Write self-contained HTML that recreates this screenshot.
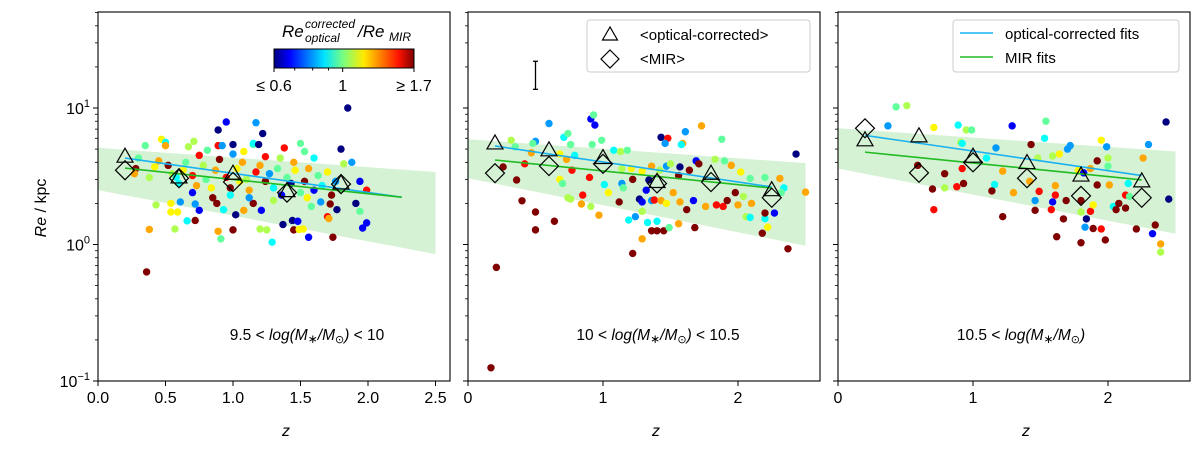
<!DOCTYPE html>
<html><head><meta charset="utf-8">
<style>
body{margin:0;background:#fff;}
svg{display:block;font-family:"Liberation Sans","DejaVu Sans",sans-serif;}
</style></head>
<body>
<svg id="chart" width="1200" height="449" viewBox="0 0 1200 449" xmlns="http://www.w3.org/2000/svg">
<defs>
<linearGradient id="jet" x1="0" x2="1" y1="0" y2="0">
<stop offset="0" stop-color="#00007f"/><stop offset="0.11" stop-color="#0000ff"/><stop offset="0.36" stop-color="#00e5ff"/><stop offset="0.5" stop-color="#7dff7a"/><stop offset="0.64" stop-color="#ffea00"/><stop offset="0.89" stop-color="#ff1200"/><stop offset="1" stop-color="#7f0000"/>
</linearGradient>
</defs>
</svg>
<script>
// ---- data ----
const N=0.6,B=0.68,Z=0.8,C=0.89,M=0.98,G=1.06,Y=1.16,O=1.26,R=1.48,D=1.7;
const panelLabelPre=["9.5 < ","10 < ","10.5 < "];
const panelLabelPost=[" < 10"," < 10.5",""];
const xTicks1=[0,0.5,1.0,1.5,2.0,2.5];
const xTickLabels1=["0.0","0.5","1.0","1.5","2.0","2.5"];
const xTicks23=[0,1,2];
const xTickLabels23=["0","1","2"];
const yTicks=[0.1,1,10];
const cbTicks=[0.6,1,1.7];
const cbTickLabels=["\u2264 0.6","1","\u2265 1.7"];
const binZ1=[0.2,0.6,1.0,1.4,1.8];
const binZ23=[0.2,0.6,1.0,1.4,1.8,2.25];
const triRe1=[4.4,3.1,3.3,2.46,2.8];
const diaRe1=[3.5,3.06,2.87,2.4,2.77];
const triRe2=[5.5,4.9,4.3,2.87,3.3,2.5];
const diaRe2=[3.33,3.76,3.9,2.8,2.87,2.2];
const triRe3=[5.8,6.2,4.4,3.95,3.2,2.9];
const diaRe3=[7.1,3.35,4.0,3.06,2.27,2.2];
const fitZ=[0.2,2.25];
const fitOpt1=[4.3,2.22], fitMir1=[3.63,2.22];
const fitOpt2=[5.27,2.64], fitMir2=[4.16,2.59];
const fitOpt3=[6.3,3.2], fitMir3=[4.75,2.97];
const bandZ=[0,2.5];
const bandUp1=[5.1,3.4], bandLo1=[2.5,0.85];
const bandUp2=[5.9,3.95], bandLo2=[3.06,0.98];
const bandUp3=[7.1,4.8], bandLo3=[3.6,1.2];
const errBar=[0.5,13.7,22];
const pts1=[[0.47,5.9,Y],[0.50,5.6,C],[0.35,5.3,M],[0.50,5.3,O],[0.71,5.7,G],[0.67,5.2,G],[0.81,4.9,M],[0.89,5.3,R],[0.92,5.3,Z],[1.0,5.4,N],[1.08,4.8,Y],[1.15,5.4,M],[1.17,7.8,Z],[0.95,7.9,B],[0.89,6.9,N],[1.22,6.5,N],[1.15,5.5,C],[1.19,5.4,N],[1.24,4.4,R],[1.38,5.1,R],[1.5,5.5,M],[1.53,4.8,M],[1.8,5.0,N],[1.88,4.0,Z],[1.82,3.9,G],[1.85,10,N],[1.94,2.9,B],[1.99,2.5,R],[1.91,2.0,N],[1.94,1.75,M],[1.99,1.44,B],[1.96,1.32,B],[1.77,1.8,N],[1.74,1.13,D],[1.56,1.13,B],[1.29,1.04,C],[0.91,1.1,M],[1.0,1.28,D],[1.25,1.28,G],[1.2,1.3,G],[0.89,1.25,O],[0.38,1.29,O],[0.57,1.3,G],[0.66,1.49,C],[0.72,1.5,D],[0.43,1.95,G],[0.54,2.0,Y],[0.54,1.73,Y],[0.59,1.73,Y],[0.75,1.78,B],[0.72,1.98,Z],[0.61,2.05,Z],[0.88,2.0,D],[0.93,1.8,C],[1.02,1.65,N],[1.08,1.78,O],[1.15,2.0,D],[1.21,1.78,B],[1.37,1.4,N],[1.44,1.5,N],[1.48,1.48,B],[1.58,1.9,M],[1.65,2.05,Z],[1.72,1.98,D],[1.7,1.6,R],[1.71,1.55,O],[1.52,1.3,Y],[1.45,1.28,D],[1.49,1.29,Y],[0.36,0.63,D],[0.3,4.3,M],[0.28,3.6,D],[0.27,3.3,O],[0.38,3.1,G],[0.42,3.7,Y],[0.45,4.1,O],[0.52,3.8,D],[0.55,3.3,G],[0.6,2.8,C],[0.63,3.5,Y],[0.65,4.0,M],[0.7,3.2,R],[0.73,2.7,O],[0.78,3.8,G],[0.8,3.0,M],[0.84,2.6,Y],[0.87,3.5,O],[0.9,4.2,D],[0.95,3.1,R],[0.98,2.6,D],[1.03,3.6,Y],[1.07,4.0,O],[1.1,3.0,G],[1.12,2.5,O],[1.17,3.4,R],[1.2,3.8,O],[1.24,2.9,D],[1.27,3.3,Z],[1.3,2.6,C],[1.33,3.6,M],[1.36,2.3,B],[1.4,3.1,M],[1.43,2.8,N],[1.46,3.5,Y],[1.5,2.4,M],[1.53,2.9,D],[1.56,3.6,O],[1.6,2.5,B],[1.63,3.2,M],[1.66,2.7,C],[1.7,3.4,Y],[1.73,2.3,D],[1.76,2.9,Z],[1.12,2.2,Z],[0.85,2.2,D],[0.7,2.4,B],[0.98,2.3,C],[1.3,2.1,G],[1.55,2.2,Y],[0.58,3.1,C],[1.05,2.9,Y],[1.35,4.3,G],[1.6,4.3,C],[0.75,4.5,R],[1.0,4.6,Z],[1.45,4.0,O]];
const pts2=[[0.6,7.7,Z],[0.91,8.3,B],[0.93,8.9,M],[0.94,7.5,B],[1.73,7.4,O],[1.61,6.7,Z],[1.43,6.1,N],[1.48,6.0,R],[1.46,5.5,Z],[1.59,5.5,O],[1.58,5.4,C],[1.88,5.9,M],[2.43,4.6,N],[0.32,5.8,G],[0.5,5.7,Z],[0.48,5.5,M],[0.71,6.1,C],[0.74,6.5,M],[0.76,5.4,M],[0.99,5.8,M],[0.92,5.4,M],[1.08,4.9,C],[1.13,4.8,G],[1.18,4.9,M],[0.35,5.2,M],[0.47,4.7,O],[0.68,4.6,Y],[0.73,4.2,O],[0.79,4.5,C],[0.77,3.5,R],[0.42,3.9,R],[0.26,3.7,D],[0.36,2.97,D],[0.68,3.0,Y],[0.7,2.8,M],[0.9,3.1,R],[1.01,2.75,C],[1.04,2.4,Y],[1.12,2.05,D],[1.14,2.8,Z],[1.15,2.6,M],[1.22,3.0,D],[1.27,2.15,N],[1.29,2.05,B],[1.32,2.5,B],[1.34,2.97,N],[1.36,2.1,Z],[1.38,2.12,R],[1.43,2.1,O],[1.47,2.0,Y],[1.52,2.4,O],[1.57,2.05,O],[1.62,1.8,D],[1.67,2.1,B],[1.76,1.9,O],[1.84,1.95,R],[1.89,1.9,R],[1.92,2.1,D],[1.98,2.4,D],[2.0,1.95,O],[2.04,2.25,G],[2.1,2.0,O],[2.06,1.6,G],[2.09,1.58,C],[2.2,1.55,C],[2.22,1.34,Y],[2.18,1.21,D],[2.2,1.7,D],[2.27,1.7,B],[2.31,3.05,O],[2.34,2.6,C],[2.32,2.4,M],[2.5,2.42,O],[2.2,3.1,M],[2.09,3.05,M],[2.02,3.4,Y],[1.95,3.8,O],[1.9,4.1,M],[1.83,4.2,G],[1.69,4.1,B],[1.71,3.9,D],[1.64,3.5,D],[1.57,3.7,N],[1.56,3.2,D],[1.47,3.75,Z],[1.42,3.5,G],[1.5,3.9,G],[1.36,3.75,O],[1.29,3.45,Y],[1.21,3.6,Y],[1.14,3.6,G],[0.85,2.3,R],[0.84,1.98,O],[0.74,2.2,G],[0.76,2.15,G],[0.91,1.9,G],[0.97,1.64,O],[1.29,1.75,G],[1.19,1.51,C],[1.24,1.6,Z],[1.33,1.45,C],[1.4,1.48,C],[1.36,1.26,D],[1.4,1.26,D],[1.45,1.26,D],[1.49,1.33,M],[1.56,1.42,O],[1.68,1.33,D],[1.29,1.1,O],[1.22,0.86,D],[0.5,1.73,D],[0.5,1.28,D],[0.64,1.48,D],[0.4,2.09,D],[2.37,0.93,D],[0.21,0.68,D],[0.17,0.125,D]];
const pts3=[[0.43,10.2,M],[0.51,10.4,G],[0.37,7.4,Z],[0.71,7.2,Y],[0.89,7.5,C],[0.95,6.9,G],[0.99,6.9,M],[0.91,5.6,G],[0.92,5.5,C],[1.29,7.4,B],[1.54,8.0,M],[1.53,6.0,C],[1.43,5.4,D],[1.17,5.1,Z],[1.1,4.3,C],[1.22,3.45,O],[1.48,4.3,G],[1.59,4.45,G],[1.64,4.6,Y],[1.7,5.0,Z],[1.72,5.3,Z],[1.99,5.2,Z],[1.95,5.8,Y],[2.0,4.3,G],[2.0,3.75,M],[1.92,4.1,D],[1.87,3.6,O],[2.43,7.9,N],[2.3,5.4,Z],[2.26,4.3,O],[0.59,3.8,D],[0.79,3.3,D],[0.92,3.6,R],[0.93,2.8,D],[0.88,2.65,R],[0.79,2.6,G],[0.7,2.55,D],[0.71,1.8,R],[1.16,2.75,C],[1.14,2.47,D],[1.3,2.4,O],[1.22,1.6,D],[1.42,2.9,O],[1.49,2.45,R],[1.46,2.1,Z],[1.46,1.78,D],[1.59,2.05,B],[1.61,2.3,R],[1.61,2.7,O],[1.69,2.1,D],[1.58,1.8,R],[1.67,1.54,D],[1.62,1.14,D],[1.8,1.03,D],[1.8,1.73,G],[1.87,1.75,R],[1.89,1.95,Y],[1.84,1.54,N],[1.83,1.34,Z],[1.89,1.31,D],[1.95,1.3,R],[1.98,1.08,D],[1.8,2.1,D],[1.92,2.73,D],[2.01,2.73,O],[2.04,1.9,C],[2.06,1.8,D],[2.08,2.0,D],[2.13,1.85,D],[2.13,2.3,R],[2.15,2.8,C],[2.16,2.25,M],[2.21,1.3,D],[2.33,1.2,B],[2.35,1.39,D],[2.39,1.01,O],[2.39,0.88,G],[2.45,2.15,N],[1.78,3.5,Y],[1.82,3.35,B]];

// ---- layout ----
const svg=document.getElementById('chart');
const NS='http://www.w3.org/2000/svg';
const panelLefts=[98,468,838], PW=352, TOP=12, BOT=381;
const XMAX=PW/135, YMIN=-1, YMAX=-1+(BOT-TOP)/136.5;
function el(tag,attrs,parent,text){const e=document.createElementNS(NS,tag);for(const k in attrs)e.setAttribute(k,attrs[k]);if(text!==undefined)e.textContent=text;(parent||svg).appendChild(e);return e;}
function jet(r){let t=Math.log(r/0.6)/Math.log(1.7/0.6);t=Math.max(0,Math.min(1,t));
 const f=(x)=>Math.max(0,Math.min(1,x));
 const rr=f(Math.min(4*t-1.5,-4*t+4.5)),gg=f(Math.min(4*t-0.5,-4*t+3.5)),bb=f(Math.min(4*t+0.5,-4*t+2.5));
 return `rgb(${Math.round(rr*255)},${Math.round(gg*255)},${Math.round(bb*255)})`;}

const panels=[
 {pts:pts1,bz:binZ1,tri:triRe1,dia:diaRe1,fo:fitOpt1,fm:fitMir1,bu:bandUp1,bl:bandLo1,xt:xTicks1,xl:xTickLabels1},
 {pts:pts2,bz:binZ23,tri:triRe2,dia:diaRe2,fo:fitOpt2,fm:fitMir2,bu:bandUp2,bl:bandLo2,xt:xTicks23,xl:xTickLabels23},
 {pts:pts3,bz:binZ23,tri:triRe3,dia:diaRe3,fo:fitOpt3,fm:fitMir3,bu:bandUp3,bl:bandLo3,xt:xTicks23,xl:xTickLabels23}];

panels.forEach((p,i)=>{
 const L=panelLefts[i];
 const X=z=>L+z/XMAX*PW;
 const Yv=v=>BOT-(Math.log10(v)-YMIN)/(YMAX-YMIN)*(BOT-TOP);
 const g=el('g',{});
 
 
 const clipId='clip'+i;
 const cp=el('clipPath',{id:clipId},g);el('rect',{x:L,y:TOP,width:PW,height:BOT-TOP},cp);
 const inner=el('g',{'clip-path':`url(#${clipId})`},g);
 const band=el('polygon',{points:`${X(bandZ[0])},${Yv(p.bu[0])} ${X(bandZ[1])},${Yv(p.bu[1])} ${X(bandZ[1])},${Yv(p.bl[1])} ${X(bandZ[0])},${Yv(p.bl[0])}`,fill:'#d5f2d5'},inner);
 
 
 p.pts.forEach(d=>{const c=el('circle',{cx:X(d[0]),cy:Yv(d[1]),r:3.7,fill:jet(d[2])},inner);
  
  });
 const lo=el('line',{x1:X(fitZ[0]),y1:Yv(p.fo[0]),x2:X(fitZ[1]),y2:Yv(p.fo[1]),stroke:'#1ab2f0','stroke-width':1.6},inner);
 
 
 const lm=el('line',{x1:X(fitZ[0]),y1:Yv(p.fm[0]),x2:X(fitZ[1]),y2:Yv(p.fm[1]),stroke:'#22bb22','stroke-width':1.6},inner);
 
 
 p.bz.forEach((z,k)=>{
  const x=X(z),yt=Yv(p.tri[k]),yd=Yv(p.dia[k]);
  const t=el('polygon',{points:`${x},${yt-8.5} ${x-8},${yt+5.5} ${x+8},${yt+5.5}`,fill:'none',stroke:'#000','stroke-width':1.2},inner);
  
  
  const dm=el('polygon',{points:`${x},${yd-9.5} ${x+9.5},${yd} ${x},${yd+9.5} ${x-9.5},${yd}`,fill:'none',stroke:'#000','stroke-width':1.2},inner);
  
  
 });
 el('rect',{x:L,y:TOP,width:PW,height:BOT-TOP,fill:'none',stroke:'#000','stroke-width':1.1},g);
 p.xt.forEach((v,k)=>{el('line',{x1:X(v),x2:X(v),y1:BOT,y2:BOT+5,stroke:'#000'},g);
  const tl=el('text',{x:X(v),y:BOT+22,'font-size':16,'text-anchor':'middle'},g,p.xl[k]);
  
  });
 for(let e=-1;e<=1;e++){for(let m=1;m<=9;m++){const v=m*Math.pow(10,e);const y=Yv(v);if(y<TOP)continue;
  el('line',{x1:L,x2:L-(m===1?5:3),y1:y,y2:y,stroke:'#000','stroke-width':m===1?1:0.8},g);}}
 if(i===0){yTicks.forEach(v=>{const t=el('text',{x:L-8,y:Yv(v)+6,'font-size':16,'text-anchor':'end'},g);
  
  
  el('tspan',{},t,'10');el('tspan',{dy:-7,'font-size':11},t,String(Math.round(Math.log10(v))).replace('-','\u2212'));});}
 const xl=el('text',{x:L+PW/2+12,y:436,'font-size':16,'font-style':'italic','text-anchor':'middle'},g,'z');
 
 
 const pl=el('text',{x:[307,658,1021][i],y:340,'font-size':15.5,'text-anchor':'middle'},g);
 
 
 el('tspan',{},pl,panelLabelPre[i]);
 el('tspan',{'font-style':'italic'},pl,'log(M');
 el('tspan',{'font-size':12,dy:3},pl,'\u2217');
 el('tspan',{'font-style':'italic',dy:-3},pl,'/M');
 el('tspan',{'font-size':11,dy:3},pl,'\u2299');
 el('tspan',{'font-style':'italic',dy:-3},pl,')');
 el('tspan',{},pl,panelLabelPost[i]);
 if(i===1){const x=X(errBar[0]);const eb=el('g',{},g);
  
  
  el('line',{x1:x,x2:x,y1:Yv(errBar[1]),y2:Yv(errBar[2]),stroke:'#000','stroke-width':1.3},eb);
  el('line',{x1:x-2.5,x2:x+2.5,y1:Yv(errBar[1]),y2:Yv(errBar[1]),stroke:'#000','stroke-width':1.3},eb);
  el('line',{x1:x-2.5,x2:x+2.5,y1:Yv(errBar[2]),y2:Yv(errBar[2]),stroke:'#000','stroke-width':1.3},eb);}
});
const yt=el('text',{x:0,y:0,'font-size':16,'text-anchor':'middle',transform:'translate(46,208) rotate(-90)'});


el('tspan',{'font-style':'italic'},yt,'Re');el('tspan',{},yt,' / kpc');
// colorbar
const cb=el('g',{});


const cbL=274,cbW=140;
el('rect',{x:cbL,y:49,width:cbW,height:19,fill:'url(#jet)',stroke:'#000','stroke-width':1},cb);
el('text',{x:282,y:37,'font-size':17,'font-style':'italic'},cb,'Re');
el('text',{x:305,y:28,'font-size':12,'font-style':'italic'},cb,'corrected');
el('text',{x:305,y:42,'font-size':12,'font-style':'italic'},cb,'optical');
el('text',{x:358,y:37,'font-size':17,'font-style':'italic'},cb,'/Re');
el('text',{x:389,y:41,'font-size':12,'font-style':'italic'},cb,'MIR');
const cbX=v=>cbL+Math.log(v/0.6)/Math.log(1.7/0.6)*cbW;
cbTicks.forEach((v,k)=>{el('line',{x1:cbX(v),x2:cbX(v),y1:68,y2:72,stroke:'#000'},cb);
 const t=el('text',{x:cbX(v),y:91,'font-size':16,'text-anchor':'middle'},cb,cbTickLabels[k]);
 
 });
[0.7,0.8,0.9].forEach(v=>el('line',{x1:cbX(v),x2:cbX(v),y1:68,y2:70.5,stroke:'#000'},cb));
// legend 2
const lg=el('g',{});


el('rect',{x:587,y:20,width:223,height:52,rx:3,fill:'#fff',stroke:'#ccc'},lg);
el('polygon',{points:'610,27 602.5,40 617.5,40',fill:'none',stroke:'#000','stroke-width':1.2},lg);
el('polygon',{points:'610,50 619,59 610,68 601,59',fill:'none',stroke:'#000','stroke-width':1.2},lg);
el('text',{x:640,y:40,'font-size':15},lg,'<optical-corrected>');
el('text',{x:640,y:64,'font-size':15},lg,'<MIR>');
// legend 3
const lg3=el('g',{});


el('rect',{x:953,y:20,width:226,height:52,rx:3,fill:'#fff',stroke:'#ccc'},lg3);
el('line',{x1:960,x2:993,y1:33,y2:33,stroke:'#1ab2f0','stroke-width':1.6},lg3);
el('line',{x1:960,x2:993,y1:57,y2:57,stroke:'#22bb22','stroke-width':1.6},lg3);
el('text',{x:1005,y:39,'font-size':15},lg3,'optical-corrected fits');
el('text',{x:1005,y:63,'font-size':15},lg3,'MIR fits');
</script>
</body></html>
